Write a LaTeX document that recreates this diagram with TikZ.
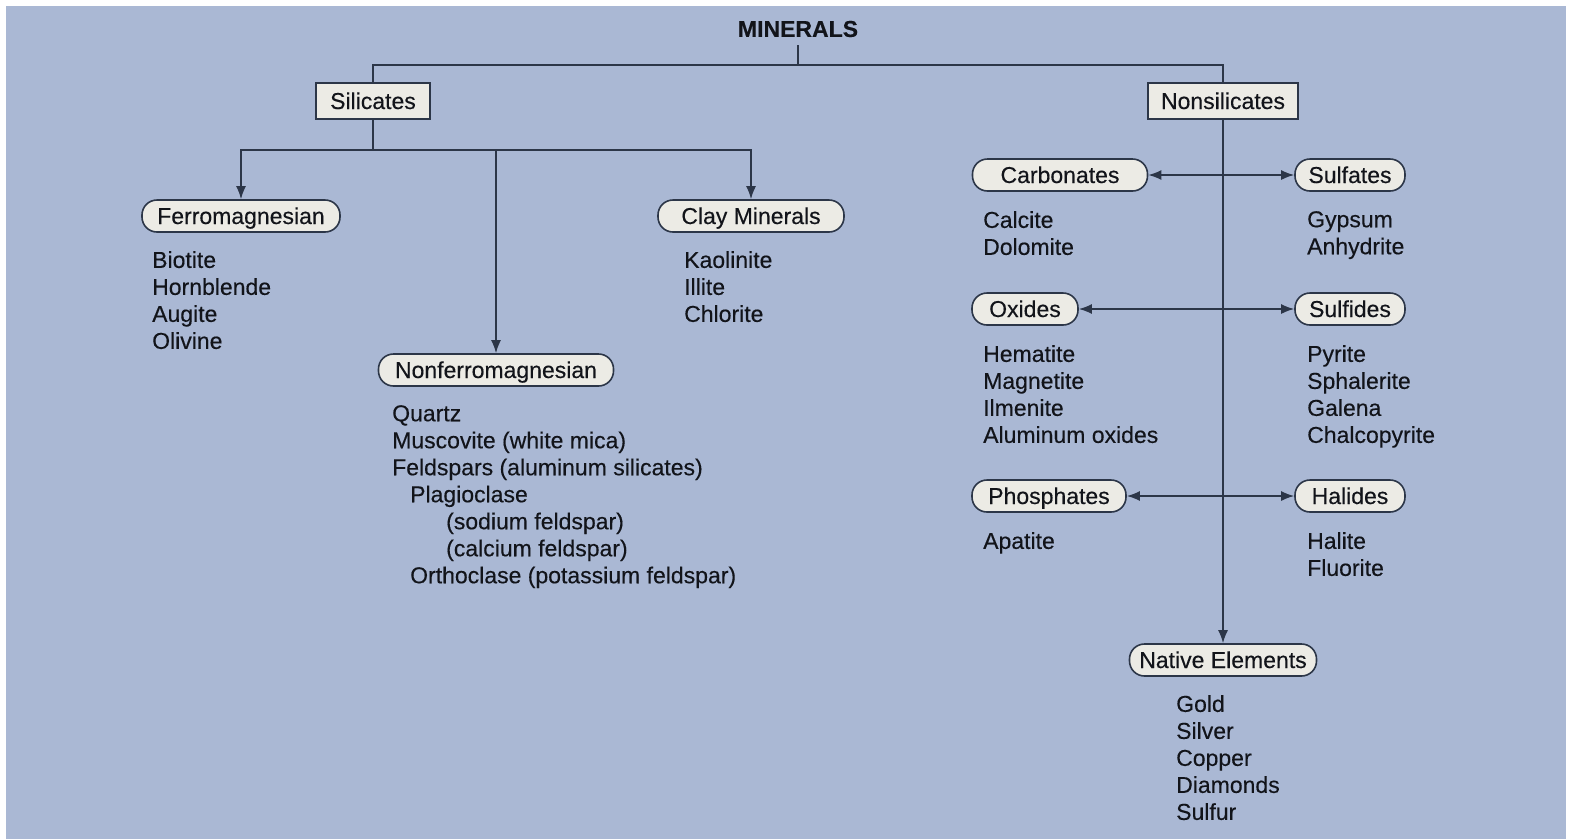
\documentclass[tikz,border=0pt]{standalone}
\usepackage{fontspec}
\setmainfont{Liberation Sans}[FakeBold=0.3]
\usetikzlibrary{arrows.meta}

\definecolor{panel}{RGB}{170,184,212}
\definecolor{ink}{RGB}{44,54,72}
\definecolor{boxfill}{RGB}{236,235,229}
\definecolor{textink}{RGB}{18,20,26}

\begin{document}
\begin{tikzpicture}[x=1pt, y=-1pt, font=\fontsize{23}{27}\selectfont, text=textink,
  family/.style = {shape=rectangle, draw=ink, line width=1.6pt, fill=boxfill,
    minimum height=36pt, inner sep=0pt, text height=17pt, text depth=1pt},
  group/.style = {shape=rectangle, rounded corners=15pt, draw=ink,
    line width=1.6pt, fill=boxfill, minimum height=32pt, inner sep=0pt,
    text height=17pt, text depth=1pt},
  members/.style = {align=left, inner sep=0pt, anchor=north west},
  link/.style = {draw=ink, line width=1.6pt},
  feed/.style = {link, -{Latex[length=13pt,width=10pt]}},
  pair/.style = {link, {Latex[length=13pt,width=10pt]}-{Latex[length=13pt,width=10pt]}}]

  \fill[white] (0,0) rectangle (1569,839);
  \fill[panel] (6,6) rectangle (1566,839);
  \useasboundingbox (0,0) rectangle (1569,839);

  \node[font=\fontsize{23}{27}\selectfont\bfseries, inner sep=8pt] (minerals) at (798,29) {MINERALS};
  \coordinate (top) at (798,65);

  \node[family, minimum width=114pt] (silicates) at (373,101) {Silicates};
  \node[family, minimum width=150pt] (nonsilicates) at (1223,101) {Nonsilicates};

  % silicates
  \coordinate (split) at (373,150);
  \node[group, minimum width=198pt] (ferro) at (241,216) {Ferromagnesian};
  \node[group, minimum width=235pt] (nonferro) at (496,370) {Nonferromagnesian};
  \node[group, minimum width=186pt] (clay) at (751,216) {Clay Minerals};

  \node[members] (ferrolist) at (152,251) {Biotite\\Hornblende\\Augite\\Olivine};
  \node[members] (claylist) at (684,251) {Kaolinite\\Illite\\Chlorite};
  \node[members] (nonferrolist) at (392,405) {Quartz\\Muscovite (white mica)\\
    Feldspars (aluminum silicates)\\
    \hspace*{18pt}Plagioclase\\
    \hspace*{54pt}(sodium feldspar)\\
    \hspace*{54pt}(calcium feldspar)\\
    \hspace*{18pt}Orthoclase (potassium feldspar)};

  % nonsilicates
  \node[group, minimum width=175pt] (carbonates) at (1060,175) {Carbonates};
  \node[group, minimum width=110pt] (sulfates) at (1350,175) {Sulfates};
  \node[group, minimum width=106pt] (oxides) at (1025,309) {Oxides};
  \node[group, minimum width=110pt] (sulfides) at (1350,309) {Sulfides};
  \node[group, minimum width=154pt] (phosphates) at (1049,496) {Phosphates};
  \node[group, minimum width=110pt] (halides) at (1350,496) {Halides};
  \node[group, minimum width=187pt] (native) at (1223,660) {Native Elements};

  \node[members] (carblist) at (983,211) {Calcite\\Dolomite};
  \node[members] (sulfatelist) at (1307,211) {Gypsum\\Anhydrite};
  \node[members] (oxidelist) at (983,345) {Hematite\\Magnetite\\Ilmenite\\Aluminum oxides};
  \node[members] (sulfidelist) at (1307,345) {Pyrite\\Sphalerite\\Galena\\Chalcopyrite};
  \node[members] (phoslist) at (983,532) {Apatite};
  \node[members] (halidelist) at (1307,532) {Halite\\Fluorite};
  \node[members] (nativelist) at (1176,695) {Gold\\Silver\\Copper\\Diamonds\\Sulfur};

  \draw[link] (minerals.south) -- (top);
  \draw[link] (silicates.north) |- (top) -| (nonsilicates.north);

  \draw[link] (silicates.south) -- (split);
  \draw[feed] (split) -| (ferro);
  \draw[feed] (split) -| (clay);
  \draw[feed] (split -| nonferro) -- (nonferro);

  \draw[feed] (nonsilicates) -- (native);
  \draw[pair] (carbonates) -- (sulfates);
  \draw[pair] (oxides) -- (sulfides);
  \draw[pair] (phosphates) -- (halides);
\end{tikzpicture}
\end{document}
